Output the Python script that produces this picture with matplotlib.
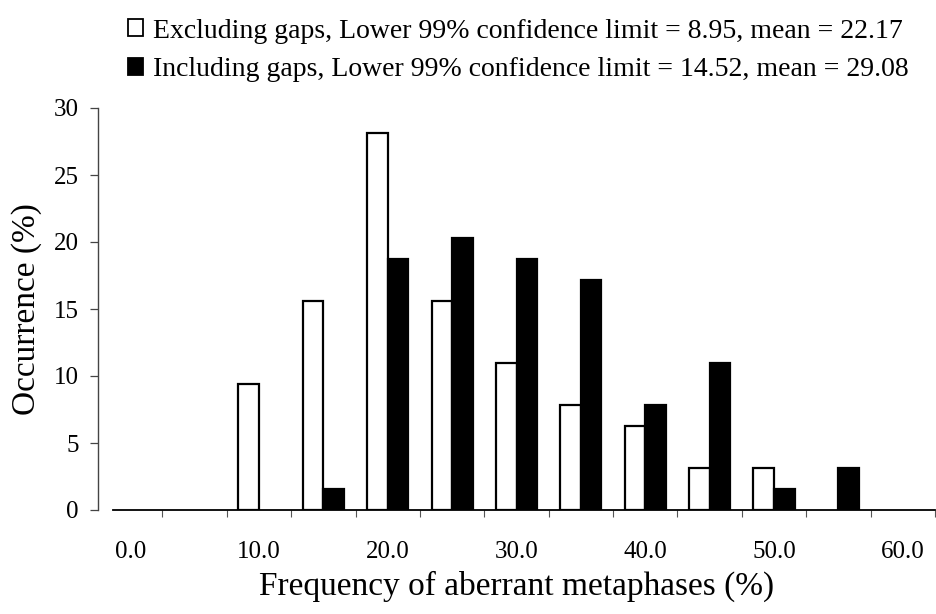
import matplotlib
matplotlib.use("Agg")
import matplotlib.pyplot as plt
from matplotlib.patches import Rectangle
import numpy as np

plt.rcParams['font.family'] = ['Liberation Serif', 'DejaVu Serif']

categories = ["0.0", "5.0", "10.0", "15.0", "20.0", "25.0", "30.0", "35.0", "40.0", "45.0", "50.0", "55.0", "60.0"]
excluding = [0, 0, 9.375, 15.625, 28.125, 15.625, 10.9375, 7.8125, 6.25, 3.125, 3.125, 0, 0]
including = [0, 0, 0, 1.5625, 18.75, 20.3125, 18.75, 17.1875, 7.8125, 10.9375, 1.5625, 3.125, 0]
label_excl = "Excluding gaps, Lower 99% confidence limit = 8.95, mean = 22.17"
label_incl = "Including gaps, Lower 99% confidence limit = 14.52, mean = 29.08"
yticks = [0, 5, 10, 15, 20, 25, 30]

fig = plt.figure(figsize=(9.36, 6.14), dpi=100)
ax = fig.add_axes([98/936, 1-510/614, (935-98)/936, (510-108)/614])

x = np.arange(len(categories))
w = 0.32
ax.bar(x - w/2, excluding, w, facecolor='white', edgecolor='black',
       linewidth=[1.6 if v > 0 else 0 for v in excluding], zorder=3)
ax.bar(x + w/2, including, w, facecolor='black', edgecolor='black',
       linewidth=[1.6 if v > 0 else 0 for v in including], zorder=3)

ax.set_xlim(-0.5, len(categories) - 0.5)
ax.set_ylim(0, 30)
ax.set_yticks(yticks)
ax.set_yticklabels([str(v) for v in yticks], fontsize=18)
ax.set_xticks(x[::2])
ax.set_xticklabels(categories[::2], fontsize=18)
ax.set_xticks(np.arange(1, len(categories) + 1) - 0.5, minor=True)
ax.tick_params(axis='x', which='major', length=0, pad=22)
ax.tick_params(axis='x', which='minor', length=5, width=0.8, color='#555555', direction='out')
ax.tick_params(axis='y', length=6, width=0.9, color='#444444', direction='out', pad=8)

for s in ['top', 'right']:
    ax.spines[s].set_visible(False)
ax.spines['left'].set_color('#444444')
ax.spines['left'].set_linewidth(1.0)
ax.spines['bottom'].set_color('black')
ax.spines['bottom'].set_linewidth(1.3)
ax.spines['bottom'].set_bounds(-0.27, len(categories) - 0.5)

ax.set_xlabel("Frequency of aberrant metaphases (%)", fontsize=24, labelpad=6)
ax.set_ylabel("Occurrence (%)", fontsize=24, labelpad=8)

handles = [Rectangle((0, 0), 1, 1, facecolor='white', edgecolor='black', linewidth=1.3),
           Rectangle((0, 0), 1, 1, facecolor='black', edgecolor='black', linewidth=1.3)]
fig.legend(handles, [label_excl, label_incl], loc='upper left', bbox_to_anchor=(122/936, 1 - 13/614),
           frameon=False, fontsize=20, handlelength=0.55, handleheight=0.55, handletextpad=0.35,
           labelspacing=0.5, borderaxespad=0.0, borderpad=0.2)

fig.savefig("out.png", dpi=100)
